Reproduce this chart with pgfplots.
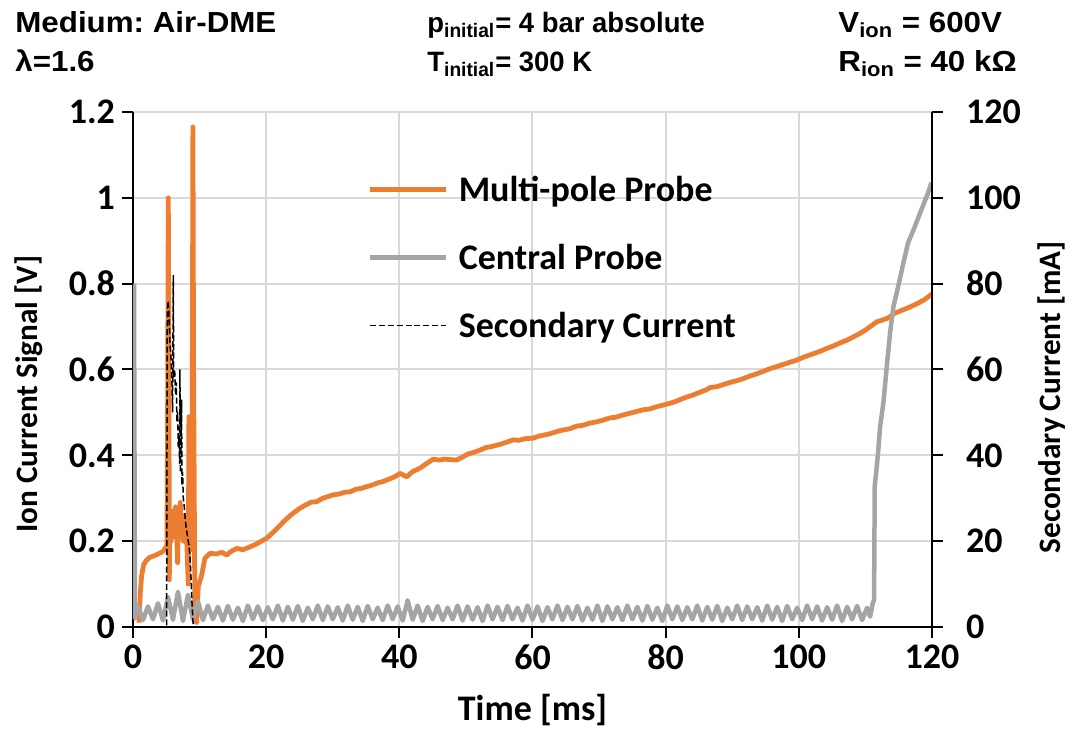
\documentclass[border=0pt]{standalone}
\usepackage{fontspec}
\setmainfont{Carlito}
\newfontfamily\hdr[FakeStretch=1.08]{Liberation Sans}
\newfontfamily\hdrm[FakeStretch=0.98]{Liberation Sans}
\usepackage{pgfplots}
\pgfplotsset{compat=1.18}
\definecolor{orng}{HTML}{ED7D31}
\definecolor{gry}{HTML}{A5A5A5}
\definecolor{gridc}{HTML}{D9D9D9}
\frenchspacing
\begin{document}
\begin{tikzpicture}
\path[use as bounding box] (-66.5pt,-52.5pt) rectangle (472.5pt,313.5pt);
\pgfplotsset{
  base/.style={scale only axis, width=399.5pt, height=257.5pt, xmin=0, xmax=120,
    tick align=outside, major tick length=5.5pt,
    every tick/.style={black, line width=1pt},
    axis line style={black, line width=1pt},
    tick label style={font=\bfseries\fontsize{18}{20}\selectfont},
    /pgf/number format/assume math mode=true,
  }
}
\begin{axis}[base, ymin=0, ymax=1.2, axis x line*=bottom, axis y line*=left,
  xtick={0,20,40,60,80,100,120}, ytick={0,0.2,0.4,0.6,0.8,1,1.2},
  grid=major, major grid style={gridc, line width=1pt},
  xlabel={Time [ms]}, ylabel={Ion Current Signal [V]},
  every axis x label/.style={at={(axis description cs:0.5,0)}, yshift=-47pt, anchor=base, font=\bfseries\fontsize{18}{20}\selectfont},
  every axis y label/.style={at={(axis description cs:0,0.452)}, xshift=-47.5pt, rotate=90, anchor=base, font=\bfseries\fontsize{15.6}{18}\selectfont},
  legend image code/.code={\draw[#1] (0pt,1.3pt) -- (38pt,1.3pt);},
  legend cell align=left,
  legend style={draw=none, fill=none, at={(axis description cs:0.2936,0.8765)}, anchor=north west,
    font=\bfseries\fontsize{18}{20}\selectfont, inner sep=0pt, row sep=18pt, column sep=5pt,
    nodes={text height=13pt, text depth=3pt, inner sep=0pt}},
]
\addplot[orng, line width=2.4pt, line join=round] coordinates {
(0.9,0.01)(1.1,0.08)(1.3,0.12)(1.6,0.145)(2.0,0.155)(2.5,0.162)(3.0,0.165)(3.5,0.168)(4.0,0.172)(4.5,0.176)(4.9,0.185)(5.1,0.19)(5.2,0.5)(5.3,1.0)(5.4,0.6)(5.45,0.11)(5.55,0.25)(5.7,0.2)(5.8,0.27)(5.95,0.22)(6.1,0.26)(6.25,0.21)(6.4,0.28)(6.55,0.23)(6.7,0.15)(6.8,0.26)(6.95,0.22)(7.1,0.29)(7.25,0.21)(7.4,0.24)(7.55,0.2)(7.7,0.26)(7.9,0.21)(8.1,0.19)(8.3,0.1)(8.4,0.49)(8.5,0.2)(8.7,0.18)(8.9,0.5)(9.0,1.165)(9.1,0.6)(9.3,0.02)(9.55,0.01)(9.8,0.094)(10.3,0.12)(10.8,0.16)(11.6,0.172)(12.5,0.17)(13.3,0.174)(14.1,0.168)(14.8,0.177)(15.6,0.183)(16.5,0.18)(17.6,0.187)(18.5,0.193)(19.3,0.2)(20.1,0.207)(21,0.22)(21.8,0.232)(22.6,0.245)(23.5,0.258)(24.3,0.268)(25.1,0.277)(26,0.285)(26.8,0.291)(27.6,0.292)(28.5,0.3)(29.3,0.304)(30.1,0.308)(31,0.31)(31.8,0.314)(32.6,0.315)(33.5,0.321)(34.3,0.323)(35.1,0.327)(36,0.331)(36.8,0.336)(37.6,0.339)(38.5,0.345)(39.3,0.35)(40.1,0.358)(41.1,0.35)(42,0.362)(43.1,0.370)(44,0.38)(44.6,0.386)(45.1,0.391)(46,0.389)(46.8,0.391)(47.6,0.39)(48.6,0.389)(49.5,0.396)(50.3,0.403)(51.2,0.407)(52.1,0.412)(53,0.418)(54,0.421)(55,0.425)(56,0.43)(57.1,0.436)(58,0.435)(59,0.439)(60.1,0.44)(61,0.445)(62,0.448)(63,0.452)(64,0.457)(64.6,0.459)(65.6,0.462)(66.6,0.468)(67.6,0.47)(68.6,0.475)(69.6,0.478)(70.6,0.482)(71.6,0.487)(72.6,0.489)(73.6,0.494)(74.6,0.498)(75.6,0.502)(76.6,0.506)(77.6,0.508)(78.6,0.513)(79.6,0.517)(80.6,0.521)(81.6,0.526)(82.2,0.53)(83,0.535)(84,0.54)(85,0.546)(86,0.552)(86.7,0.558)(87.7,0.56)(88.7,0.565)(89.7,0.57)(90.7,0.574)(91.7,0.579)(92.7,0.585)(93.7,0.59)(94.7,0.596)(95.7,0.602)(96.7,0.607)(97.7,0.612)(98.7,0.617)(99.7,0.622)(100.6,0.628)(101.5,0.633)(102.4,0.638)(103.3,0.643)(104.2,0.649)(105.2,0.655)(106.2,0.662)(107.2,0.668)(108.2,0.676)(109.2,0.684)(110.2,0.694)(111,0.703)(111.7,0.711)(112.5,0.715)(113.4,0.72)(114.4,0.731)(115.5,0.738)(116.6,0.745)(117.7,0.753)(118.8,0.762)(120,0.776)
};
\addlegendentry{Multi-pole Probe}
\addplot[gry, line width=2.25pt, line join=round] coordinates {
(0.15,0.80)(0.3,0.02)(0.75,0.05)(1.5,0.016)(2.25,0.048)(3,0.018)(3.75,0.055)(4.5,0.015)(5.25,0.07)(6,0.017)(6.75,0.082)(7.5,0.014)(8.25,0.075)(9,0.018)(9.75,0.06)(10.5,0.016)(11.25,0.05)(12,0.018)(12.75,0.047)(13.5,0.015)(14.25,0.049)(15,0.017)(15.75,0.045)(16.5,0.014)(17.25,0.05)(18,0.018)(18.75,0.048)(19.5,0.016)(20.25,0.046)(21,0.018)(21.75,0.05)(22.5,0.015)(23.25,0.047)(24,0.017)(24.75,0.049)(25.5,0.014)(26.25,0.045)(27,0.018)(27.75,0.05)(28.5,0.016)(29.25,0.048)(30,0.018)(30.75,0.046)(31.5,0.015)(32.25,0.05)(33,0.017)(33.75,0.047)(34.5,0.014)(35.25,0.049)(36,0.018)(36.75,0.045)(37.5,0.016)(38.25,0.05)(39,0.018)(39.75,0.048)(40.5,0.015)(41.25,0.062)(42,0.017)(42.75,0.05)(43.5,0.014)(44.25,0.047)(45,0.018)(45.75,0.049)(46.5,0.016)(47.25,0.045)(48,0.018)(48.75,0.05)(49.5,0.015)(50.25,0.048)(51,0.017)(51.75,0.046)(52.5,0.014)(53.25,0.05)(54,0.018)(54.75,0.047)(55.5,0.016)(56.25,0.049)(57,0.018)(57.75,0.045)(58.5,0.015)(59.25,0.05)(60,0.017)(60.75,0.048)(61.5,0.014)(62.25,0.046)(63,0.018)(63.75,0.05)(64.5,0.016)(65.25,0.047)(66,0.018)(66.75,0.049)(67.5,0.015)(68.25,0.045)(69,0.017)(69.75,0.05)(70.5,0.014)(71.25,0.048)(72,0.018)(72.75,0.046)(73.5,0.016)(74.25,0.05)(75,0.018)(75.75,0.047)(76.5,0.015)(77.25,0.049)(78,0.017)(78.75,0.045)(79.5,0.014)(80.25,0.05)(81,0.018)(81.75,0.048)(82.5,0.016)(83.25,0.046)(84,0.018)(84.75,0.05)(85.5,0.015)(86.25,0.047)(87,0.017)(87.75,0.049)(88.5,0.014)(89.25,0.045)(90,0.018)(90.75,0.05)(91.5,0.016)(92.25,0.048)(93,0.018)(93.75,0.046)(94.5,0.015)(95.25,0.05)(96,0.017)(96.75,0.047)(97.5,0.014)(98.25,0.049)(99,0.018)(99.75,0.045)(100.5,0.016)(101.25,0.05)(102,0.018)(102.75,0.048)(103.5,0.015)(104.25,0.046)(105,0.017)(105.75,0.05)(106.5,0.014)(107.25,0.047)(108,0.018)(108.75,0.049)(109.5,0.016)(110.25,0.045)(110.7,0.024)(111.1,0.055)(111.3,0.063)(111.4,0.327)(111.9,0.405)(112.2,0.466)(112.7,0.522)(113.2,0.606)(113.7,0.685)(114.2,0.746)(114.9,0.792)(115.7,0.848)(116.4,0.895)(117.4,0.932)(118.4,0.972)(119.4,1.011)(119.9,1.035)
};
\addlegendentry{Central Probe}
\addlegendimage{black, line width=0.75pt, dash pattern=on 3pt off 1.4pt}
\addlegendentry{Secondary Current}
\end{axis}
\begin{axis}[base, ymin=0, ymax=120, axis x line=none, axis y line*=right,
  ytick={0,20,40,60,80,100,120},
  yticklabel style={xshift=8pt},
  ylabel={Secondary Current [mA]},
  every axis y label/.style={at={(axis description cs:1,0.446)}, xshift=64pt, rotate=90, anchor=base, font=\bfseries\fontsize{15.6}{18}\selectfont},
]
\addplot[black, line width=0.75pt, dash pattern=on 3pt off 1.4pt] coordinates {
(0,0)(4.95,0)(5.05,0)(5.15,74)(5.3,76)(5.45,71)(5.55,66)(5.7,63)(5.85,57)(5.95,50)(6.05,82)(6.12,58)(6.25,60)(6.4,54)(6.5,57)(6.6,48)(6.7,50)(6.8,42)(6.9,44)(7.0,38)(7.05,60)(7.1,36)(7.2,42)(7.3,53)(7.35,33)(7.45,36)(7.55,30)(7.7,28)(7.85,25)(8.0,23)(8.2,21)(8.4,19)(8.55,16.5)(8.7,12)(8.85,6)(9.05,0)
};
\end{axis}
\begin{scope}[every node/.style={anchor=base west, inner sep=0pt}]
\node[font=\hdr\bfseries\fontsize{14.5}{16}\selectfont] at (-59pt,297pt) {Medium: Air-DME};
\node[font=\hdr\bfseries\fontsize{14.5}{16}\selectfont] at (-59pt,277.5pt) {λ=1.6};
\node[font=\hdrm\bfseries\fontsize{14}{16}\selectfont] at (147pt,297pt) {p\textsubscript{initial}= 4 bar absolute};
\node[font=\hdrm\bfseries\fontsize{14}{16}\selectfont] at (147pt,277.5pt) {T\textsubscript{initial}= 300 K};
\node[font=\hdr\bfseries\fontsize{14.5}{16}\selectfont] at (352.5pt,297pt) {V\textsubscript{ion} = 600V};
\node[font=\hdr\bfseries\fontsize{14.5}{16}\selectfont] at (352.5pt,277.5pt) {R\textsubscript{ion} = 40 kΩ};
\end{scope}
\end{tikzpicture}
\end{document}
